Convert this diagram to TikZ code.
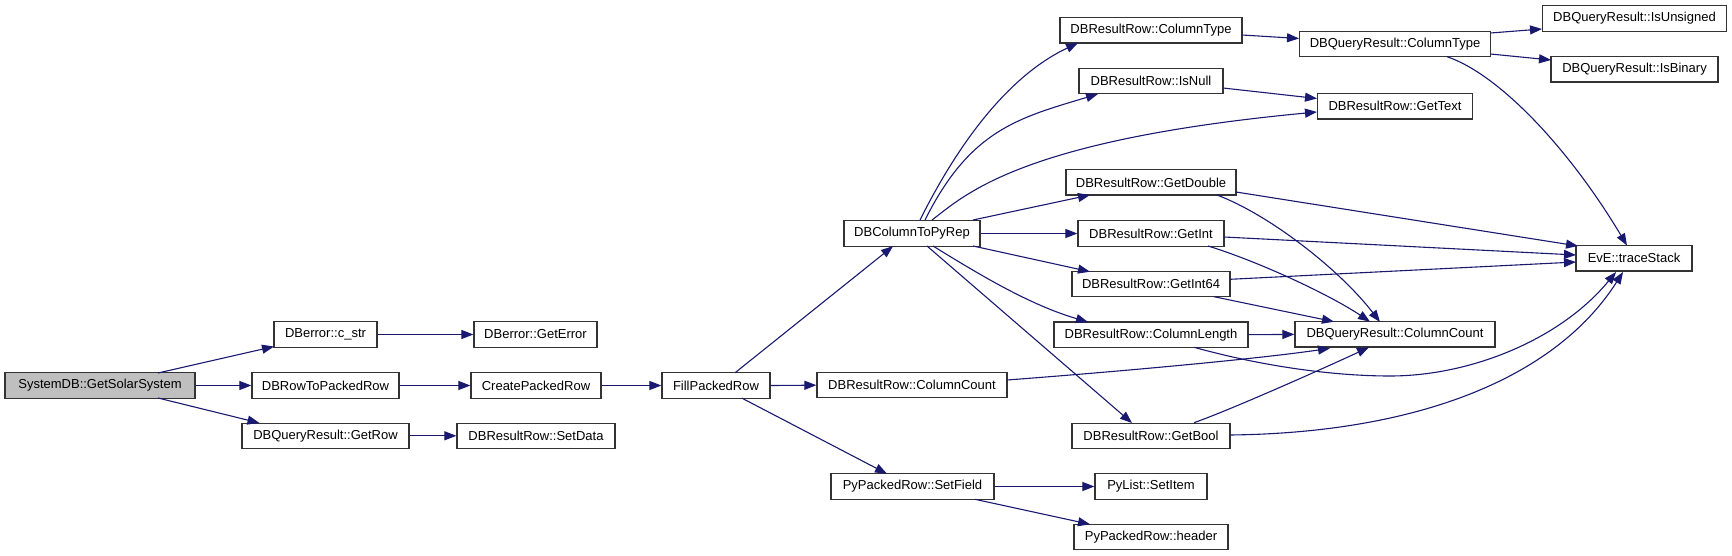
\documentclass[tikz,border=0pt]{standalone}
\usepackage{fontspec}
\setmainfont{Liberation Sans}
\usetikzlibrary{arrows.meta,calc}
\definecolor{edgec}{HTML}{191970}
\definecolor{nodebd}{HTML}{333333}
\definecolor{nodefill}{HTML}{BFBFBF}
\begin{document}
\begin{tikzpicture}[x=1pt,y=-1pt,
  fn/.style={draw=nodebd, line width=1.2pt, fill=white, inner sep=0pt,
    minimum height=25.3pt, font=\fontsize{13}{15}\selectfont, text=black},
  cg/.style={draw=edgec, line width=1.1pt, -{Triangle[length=12pt,width=9pt]}},
]
\useasboundingbox (0,0) rectangle (1732,556);
% nodes
\node[fn, fill=nodefill, minimum width=190pt] (sys) at (100,385.5) {SystemDB::GetSolarSystem};
\node[fn, minimum width=103pt] (cstr) at (325.5,334.5) {DBerror::c\_str};
\node[fn, minimum width=147pt] (d2p) at (325.5,385.5) {DBRowToPackedRow};
\node[fn, minimum width=167pt] (getrow) at (325.5,435.8) {DBQueryResult::GetRow};
\node[fn, minimum width=123pt] (geterr) at (535.5,334.5) {DBerror::GetError};
\node[fn, minimum width=130pt] (cpr) at (536,385.5) {CreatePackedRow};
\node[fn, minimum width=158pt] (setdata) at (536,435.8) {DBResultRow::SetData};
\node[fn, minimum width=108pt] (fpr) at (716,385.5) {FillPackedRow};
\node[fn, minimum width=136pt] (colpy) at (912,233.5) {DBColumnToPyRep};
\node[fn, minimum width=190pt] (rcolcount) at (912,385.2) {DBResultRow::ColumnCount};
\node[fn, minimum width=163pt] (setfield) at (912.5,486.5) {PyPackedRow::SetField};
\node[fn, minimum width=182pt] (rcoltype) at (1151,30.4) {DBResultRow::ColumnType};
\node[fn, minimum width=144pt] (isnull) at (1151,81.2) {DBResultRow::IsNull};
\node[fn, minimum width=170pt] (getdouble) at (1151,182.4) {DBResultRow::GetDouble};
\node[fn, minimum width=146pt] (getint) at (1151,233.5) {DBResultRow::GetInt};
\node[fn, minimum width=158pt] (getint64) at (1151,284) {DBResultRow::GetInt64};
\node[fn, minimum width=194pt] (collen) at (1151,334.7) {DBResultRow::ColumnLength};
\node[fn, minimum width=158pt] (getbool) at (1151,435.8) {DBResultRow::GetBool};
\node[fn, minimum width=112pt] (setitem) at (1151,486.5) {PyList::SetItem};
\node[fn, minimum width=154pt] (header) at (1151,537.2) {PyPackedRow::header};
\node[fn, minimum width=191pt] (qcoltype) at (1395,44) {DBQueryResult::ColumnType};
\node[fn, minimum width=155pt] (gettext) at (1395,106.3) {DBResultRow::GetText};
\node[fn, minimum width=200pt] (qcolcount) at (1395,334.4) {DBQueryResult::ColumnCount};
\node[fn, minimum width=184pt] (isunsigned) at (1634.5,18.5) {DBQueryResult::IsUnsigned};
\node[fn, minimum width=167pt] (isbinary) at (1634.5,69.3) {DBQueryResult::IsBinary};
\node[fn, minimum width=116pt] (tracestack) at (1634,258.3) {EvE::traceStack};
% edges
\draw[cg] ($(sys)+(58,-12.5)$) -- ($(cstr)+(-51.5,12)$);
\draw[cg] (sys.east) -- (d2p.west);
\draw[cg] ($(sys)+(58,12.5)$) -- ($(getrow)+(-66,-12.8)$);
\draw[cg] (cstr.east) -- (geterr.west);
\draw[cg] (d2p.east) -- (cpr.west);
\draw[cg] (getrow.east) -- (setdata.west);
\draw[cg] (cpr.east) -- (fpr.west);
\draw[cg] ($(fpr)+(19,-12.7)$) -- ($(colpy)+(-19,12.7)$);
\draw[cg] (fpr.east) -- (rcolcount.west);
\draw[cg] ($(fpr)+(26,12.7)$) -- ($(setfield)+(-25.5,-12.7)$);
\draw[cg] ($(colpy)+(8,-13.5)$) .. controls +(40,-80) and +(-68,32) .. ($(rcoltype)+(-73,12.6)$);
\draw[cg] ($(colpy)+(13,-13.5)$) .. controls +(45,-90) and +(-80,24) .. ($(isnull)+(-53,12.8)$);
\draw[cg] ($(colpy)+(20,-13.5)$) .. controls +(33,-25) and +(-297,28) .. ($(gettext)+(-78,5.7)$);
\draw[cg] ($(colpy)+(61,-13.5)$) -- ($(getdouble)+(-61,12.6)$);
\draw[cg] (colpy.east) -- (getint.west);
\draw[cg] ($(colpy)+(61,12.5)$) -- ($(getint64)+(-61,-12.3)$);
\draw[cg] ($(colpy)+(21,12.5)$) .. controls +(47,29) and +(-58,-17) .. ($(collen)+(-63,-12.7)$);
\draw[cg] ($(colpy)+(15,12.5)$) -- ($(getbool)+(-19,-12.8)$);
\draw[cg] ($(rcoltype)+(91,4.6)$) -- ($(qcoltype)+(-96,-5.5)$);
\draw[cg] ($(isnull)+(72,6.8)$) -- ($(gettext)+(-78,-7.8)$);
\draw[cg] ($(qcoltype)+(95.5,-11)$) -- ($(isunsigned)+(-92.5,10.5)$);
\draw[cg] ($(qcoltype)+(95.5,10)$) -- ($(isbinary)+(-83.5,-9.3)$);
\draw[cg] ($(qcoltype)+(52,12.7)$) .. controls +(53,18) and +(-57,-95.5) .. ($(tracestack)+(-7,-12.8)$);
\draw[cg] ($(getdouble)+(85,9.6)$) -- ($(tracestack)+(-56,-12.3)$);
\draw[cg] ($(getdouble)+(66,12.6)$) .. controls +(53,20) and +(-40,-52) .. ($(qcolcount)+(-15,-12.4)$);
\draw[cg] ($(getint)+(73,3.5)$) -- ($(tracestack)+(-58,-3.3)$);
\draw[cg] ($(getint)+(57,12.5)$) .. controls +(52,16) and +(-40,-26.7) .. ($(qcolcount)+(-25,-12.7)$);
\draw[cg] ($(getint64)+(79,-4.7)$) -- ($(tracestack)+(-58,3.7)$);
\draw[cg] ($(getint64)+(63,12.7)$) -- ($(qcolcount)+(-61,-12.7)$);
\draw[cg] (collen.east) -- (qcolcount.west);
\draw[cg] ($(collen)+(43,12.6)$) .. controls +(76,21) and +(-50,0) .. ($(collen)+(239,41.3)$)
   .. controls +(80,0) and +(-56,68) .. ($(tracestack)+(-18,13.7)$);
\draw[cg] ($(rcolcount)+(95,-5.2)$) .. controls +(93,-7) and +(-80,11.7) .. ($(qcolcount)+(-65,13.9)$);
\draw[cg] ($(getbool)+(43,-13.1)$) .. controls +(36,-12.7) and +(-49,22.7) .. ($(qcolcount)+(-26,12.9)$);
\draw[cg] ($(getbool)+(79,-0.8)$) .. controls +(180,-2) and +(-70,110) .. ($(tracestack)+(-11,13.7)$);
\draw[cg] (setfield.east) -- (setitem.west);
\draw[cg] ($(setfield)+(62.5,12.8)$) -- ($(header)+(-61,-12.9)$);
\end{tikzpicture}
\end{document}
